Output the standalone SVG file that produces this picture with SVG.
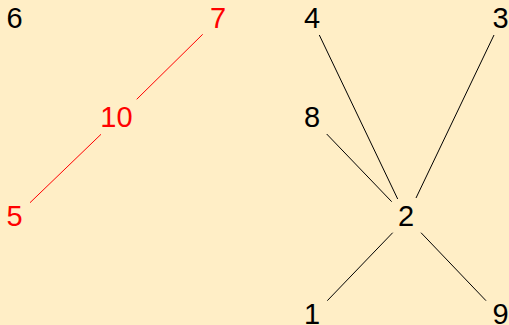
<svg xmlns="http://www.w3.org/2000/svg" width="509" height="325" viewBox="0 0 509 325">
<style>
.lbl{font-family:"Liberation Sans",Arial,sans-serif;font-size:29px;text-anchor:middle;fill:#000}
.red{fill:#FF0000}
.e{stroke:#000;stroke-width:1;fill:none}
.er{stroke:#FF0000;stroke-width:1;fill:none}
</style>
<rect width="509" height="325" fill="#FFEEC6"/>
<g id="connectors">
<line class="er" x1="202.7" y1="34.3" x2="136.7" y2="99.3"/>
<line class="er" x1="101" y1="134.3" x2="30" y2="202.7"/>
<line class="e" x1="319.3" y1="35" x2="397.7" y2="199"/>
<line class="e" x1="494" y1="35" x2="416" y2="198"/>
<line class="e" x1="326.7" y1="134" x2="391.7" y2="201.7"/>
<line class="e" x1="392.7" y1="232.7" x2="327.3" y2="300.7"/>
<line class="e" x1="421" y1="232.7" x2="486" y2="300.7"/>
</g>
<g id="n6"><text class="lbl" x="14.5" y="28">6</text></g>
<g id="n7"><text class="lbl red" x="218" y="28">7</text></g>
<g id="n10"><text class="lbl red" x="116.5" y="127">10</text></g>
<g id="n5"><text class="lbl red" x="14.5" y="226">5</text></g>
<g id="n4"><text class="lbl" x="312" y="28">4</text></g>
<g id="n3"><text class="lbl" x="500.5" y="28">3</text></g>
<g id="n8"><text class="lbl" x="312" y="127">8</text></g>
<g id="n2"><text class="lbl" x="406" y="226">2</text></g>
<g id="n1"><text class="lbl" x="312" y="323.5">1</text></g>
<g id="n9"><text class="lbl" x="500.5" y="323.5">9</text></g>
</svg>
